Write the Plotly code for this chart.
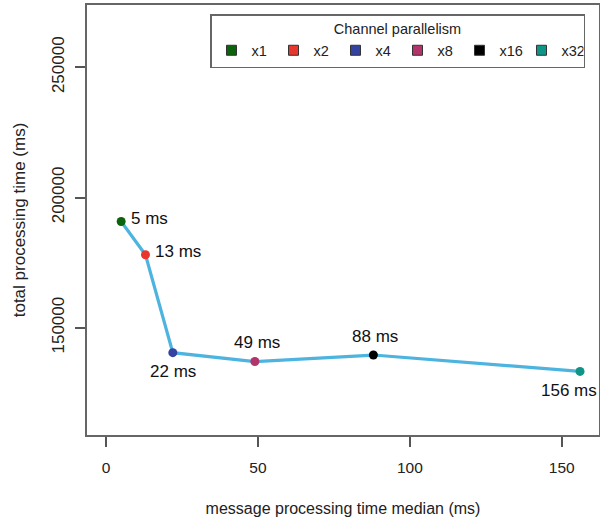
import plotly.graph_objects as go

# data
parallelism = ["x1", "x2", "x4", "x8", "x16", "x32"]
median_ms = [5, 13, 22, 49, 88, 156]
total_ms = [190800, 178000, 140400, 137000, 139500, 133200]
point_labels = ["5 ms", "13 ms", "22 ms", "49 ms", "88 ms", "156 ms"]
colors = ["#0b640b", "#e8372c", "#3443a2", "#b3336b", "#000000", "#0f9488"]
x_ticks = [0, 50, 100, 150]
y_ticks = [150000, 200000, 250000]
y_tick_text = ["150000", "200000", "250000"]

# label placement (style only)
label_pos = ["right", "right", "below", "above", "above", "below_left"]

fig = go.Figure()

fig.add_trace(go.Scatter(
    x=median_ms, y=total_ms, mode="lines",
    line=dict(color="#4db4e0", width=3.2),
    showlegend=False, hoverinfo="skip",
))
fig.add_trace(go.Scatter(
    x=median_ms, y=total_ms, mode="markers",
    marker=dict(color=colors, size=9),
    showlegend=False,
))
for name, c in zip(parallelism, colors):
    fig.add_trace(go.Scatter(
        x=[None], y=[None], mode="markers", name=name,
        marker=dict(symbol="square", size=10, color=c,
                    line=dict(color="#333333", width=1)),
    ))

for xv, yv, txt, pos in zip(median_ms, total_ms, point_labels, label_pos):
    a = dict(x=xv, y=yv, text=txt, showarrow=False,
             font=dict(family="Liberation Sans", size=17, color="#111111"))
    if pos == "right":
        a.update(xanchor="left", yanchor="middle", xshift=8, yshift=3)
    elif pos == "below":
        a.update(xanchor="center", yanchor="middle", yshift=-19)
    elif pos == "above":
        a.update(xanchor="center", yanchor="middle", yshift=19, xshift=2)
    else:
        a.update(xanchor="center", yanchor="middle", yshift=-19, xshift=-11)
    fig.add_annotation(**a)

axis_common = dict(
    showline=True, mirror=True, linecolor="#666666", linewidth=1.5,
    ticks="outside", ticklen=10, tickwidth=1.5, tickcolor="#555555",
    showgrid=False, zeroline=False,
)

fig.update_layout(
    width=600, height=520,
    margin=dict(l=87, r=1, t=5, b=85, autoexpand=False),
    paper_bgcolor="white", plot_bgcolor="white",
    font=dict(family="Liberation Sans", color="#222222"),
    xaxis=dict(
        range=[-6.24, 162.24], tickvals=x_ticks,
        tickfont=dict(size=15.5), ticklabelstandoff=8,
        title=dict(text="message processing time median (ms)",
                   font=dict(size=16), standoff=27),
        **axis_common,
    ),
    yaxis=dict(
        range=[108790, 273925], tickvals=y_ticks, ticktext=y_tick_text,
        tickangle=-90, tickfont=dict(size=17), ticklabelstandoff=4,
        title=dict(text="total processing time (ms)",
                   font=dict(size=17), standoff=20),
        **axis_common,
    ),
    legend=dict(
        orientation="h", xref="container", yref="container",
        x=210 / 600, y=1 - 14 / 520, xanchor="left", yanchor="top",
        bordercolor="#666666", borderwidth=1.5, bgcolor="white",
        font=dict(size=14.5, color="#222222"),
        title=dict(text="Channel parallelism", side="top center",
                   font=dict(size=14.5)),
        entrywidth=17, itemwidth=30,
    ),
)

fig.write_html("out.html")
